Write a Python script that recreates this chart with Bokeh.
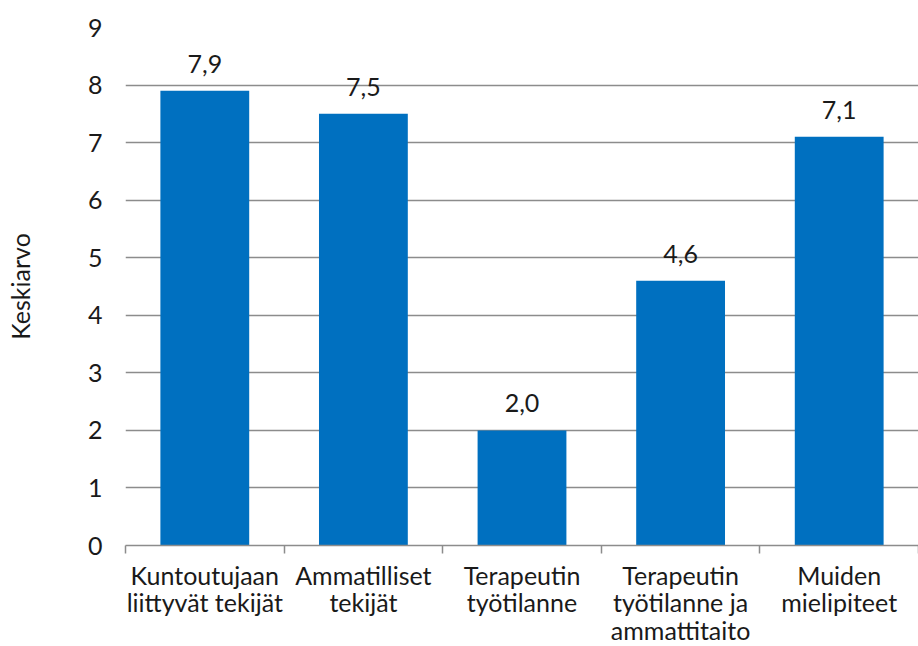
from bokeh.plotting import figure
from bokeh.models import FixedTicker, ColumnDataSource, Range1d
from bokeh.core.properties import value
from bokeh.embed import file_html
from bokeh.resources import INLINE

categories = [
    "Kuntoutujaan\nliittyvät tekijät",
    "Ammatilliset\ntekijät",
    "Terapeutin\ntyötilanne",
    "Terapeutin\ntyötilanne ja\nammattitaito",
    "Muiden\nmielipiteet",
]
values = [7.9, 7.5, 2.0, 4.6, 7.1]
value_labels = ["7,9", "7,5", "2,0", "4,6", "7,1"]
y_ticks = [0, 1, 2, 3, 4, 5, 6, 7, 8, 9]

FONT = "Lato"
BAR = "#0070C0"
GRID = "#8c8c8c"
INK = "#1a1a1a"

positions = [i + 0.5 for i in range(len(categories))]
src = ColumnDataSource(dict(x=positions, top=values, lab=value_labels))

p = figure(frame_width=793, frame_height=518, output_backend="svg",
           toolbar_location=None,
           x_range=Range1d(0, len(categories)), y_range=Range1d(0, 9),
           min_border_left=125, min_border_right=0, min_border_top=27,
           min_border_bottom=101)
p.outline_line_color = None
p.background_fill_color = "white"
p.border_fill_color = "white"

p.vbar(x="x", top="top", bottom=0, width=0.56, source=src,
       fill_color=BAR, line_color=None)

p.text(x="x", y="top", text="lab", source=src, text_align="center",
       text_baseline="bottom", y_offset=-18, text_font=value(FONT),
       text_font_size="25px", text_color=INK)

# y axis: labels only, horizontal grid lines
p.yaxis.ticker = FixedTicker(ticks=y_ticks)
p.yaxis.axis_line_color = None
p.yaxis.major_tick_line_color = None
p.yaxis.minor_tick_line_color = None
p.yaxis.major_tick_out = 0
p.yaxis.major_label_standoff = 23
p.yaxis.major_label_text_font = FONT
p.yaxis.major_label_text_font_size = "25px"
p.yaxis.major_label_text_color = INK
p.yaxis.axis_label = "Keskiarvo"
p.yaxis.axis_label_text_font = FONT
p.yaxis.axis_label_text_font_size = "25px"
p.yaxis.axis_label_text_font_style = "normal"
p.yaxis.axis_label_text_color = INK
p.yaxis.axis_label_standoff = 50
p.ygrid.ticker = FixedTicker(ticks=y_ticks)
p.ygrid.grid_line_color = GRID
p.ygrid.grid_line_width = 1.5
p.xgrid.grid_line_color = None

# x axis: category names at bar centres, tick marks on category boundaries
p.xaxis.ticker = FixedTicker(ticks=positions,
                             minor_ticks=list(range(len(categories) + 1)))
p.xaxis.major_label_overrides = {pos: c for pos, c in zip(positions, categories)}
p.xaxis.major_tick_line_color = None
p.xaxis.major_tick_out = 0
p.xaxis.major_tick_in = 0
p.xaxis.minor_tick_line_color = GRID
p.xaxis.minor_tick_line_width = 1.5
p.xaxis.minor_tick_in = 0
p.xaxis.minor_tick_out = 8
p.xaxis.axis_line_color = GRID
p.xaxis.axis_line_width = 1.5
p.xaxis.major_label_standoff = 6
p.xaxis.major_label_text_font = FONT
p.xaxis.major_label_text_font_size = "25px"
p.xaxis.major_label_text_color = INK
p.xaxis.major_label_text_line_height = 0.92

open("out.html", "w").write(file_html(p, INLINE))
